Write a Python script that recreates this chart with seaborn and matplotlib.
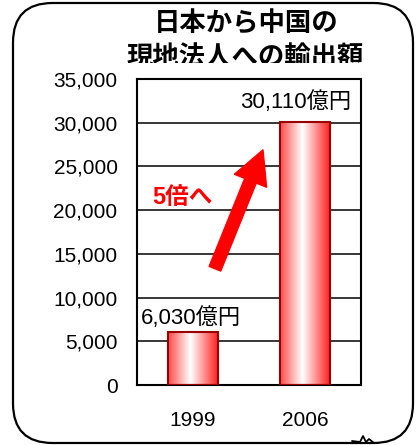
import matplotlib
matplotlib.use("Agg")
import matplotlib.pyplot as plt
import matplotlib.transforms as mtransforms
from matplotlib.patches import FancyBboxPatch
from matplotlib.lines import Line2D
import numpy as np
import pandas as pd
import seaborn as sns

# data
years = ["1999", "2006"]
exports = [6030, 30110]  # 億円
bar_labels = ["6,030億円", "30,110億円"]
y_ticks = [0, 5000, 10000, 15000, 20000, 25000, 30000, 35000]
title_lines = ["日本から中国の", "現地法人への輸出額"]
growth_note = "5倍へ"

sns.set_style("white")
plt.rcParams['font.family'] = ['Liberation Sans', 'Noto Sans CJK JP', 'DejaVu Sans']
plt.rcParams['text.color'] = 'black'
plt.rcParams['xtick.color'] = 'black'
plt.rcParams['ytick.color'] = 'black'

df = pd.DataFrame({"year": years, "value": exports})

fig = plt.figure(figsize=(4.17, 4.45), dpi=100)
ax = fig.add_axes([0.3285, 0.1348, 0.5372, 0.6876])

sns.barplot(data=df, x="year", y="value", ax=ax, color="red", width=0.44,
            edgecolor="#990000", linewidth=1.5, zorder=3)

# horizontal red-white-red gradient inside each bar
grad = np.linspace(0, 1, 256)
grad = np.abs(grad - 0.45) / 0.55
grad = grad[None, :]
cmap = matplotlib.colors.LinearSegmentedColormap.from_list(
    "rw", ["#ffffff", "#ff9090", "#ff2020"])
for bar in ax.patches:
    x0, y0 = bar.get_x(), bar.get_y()
    w, h = bar.get_width(), bar.get_height()
    bar.set_facecolor("none")
    im = ax.imshow(grad, cmap=cmap, aspect="auto", extent=[x0, x0 + w, y0, y0 + h],
                   zorder=2.5, interpolation="bilinear")
    im.set_clip_path(bar)

ax.set_xlim(-0.5, 1.5)
ax.set_ylim(0, 35000)
ax.set_yticks(y_ticks)
ax.set_yticklabels([f"{v:,}" for v in y_ticks], fontsize=15)
ax.tick_params(axis="y", length=0, pad=14)
ax.tick_params(axis="x", which="major", length=0, pad=19, labelsize=15)
ax.set_xticks([0.5], minor=True)
ax.tick_params(axis="x", which="minor", direction="in", length=5, width=0.8)
ax.yaxis.grid(True, color="black", linewidth=1.1, zorder=0)
ax.set_axisbelow(True)
ax.set_xlabel("")
ax.set_ylabel("")
for s in ax.spines.values():
    s.set_visible(True)
    s.set_color("black")
    s.set_linewidth(1.5)

# value labels
ax.text(-0.02, 7700, bar_labels[0], ha="center", va="center", fontsize=16)
ax.text(0.92, 32400, bar_labels[1], ha="center", va="center", fontsize=16)

# growth arrow
ax.annotate("", xy=(0.625, 26900), xytext=(0.196, 13300),
            arrowprops=dict(arrowstyle="simple,head_width=1.25,head_length=1.2,tail_width=0.45",
                            mutation_scale=20, color="red", shrinkA=0, shrinkB=0),
            zorder=5)
ax.text(-0.09, 21500, growth_note, ha="center", va="center", fontsize=17,
        fontweight="bold", color="red")

# title, second line partly hidden under the chart area
fig.text(0.59, 1 - 11 / 445, title_lines[0], ha="center", va="top", fontsize=19,
         fontweight="bold")
t2 = fig.text(0.588, 1 - 45 / 445, title_lines[1], ha="center", va="top", fontsize=19,
              fontweight="bold")
t2.set_clip_box(mtransforms.TransformedBbox(
    mtransforms.Bbox.from_extents(0, 1 - 63 / 445, 1, 1), fig.transFigure))
t2.set_clip_on(True)

# rounded frame around the whole chart
frame = FancyBboxPatch((13 / 417, 2 / 445), 400 / 417, 440 / 445,
                       boxstyle="round,pad=0,rounding_size=0.095",
                       transform=fig.transFigure, fill=False,
                       edgecolor="black", linewidth=1.6,
                       mutation_aspect=417 / 445)
fig.patches.append(frame)
fig.lines.append(Line2D([352 / 417, 360 / 417, 363 / 417, 366 / 417, 369 / 417, 374 / 417],
                        [4 / 445, 3 / 445, 9 / 445, 3 / 445, 6 / 445, 2 / 445],
                        transform=fig.transFigure, color="black", linewidth=1.3))

fig.savefig("out.png", dpi=100)
